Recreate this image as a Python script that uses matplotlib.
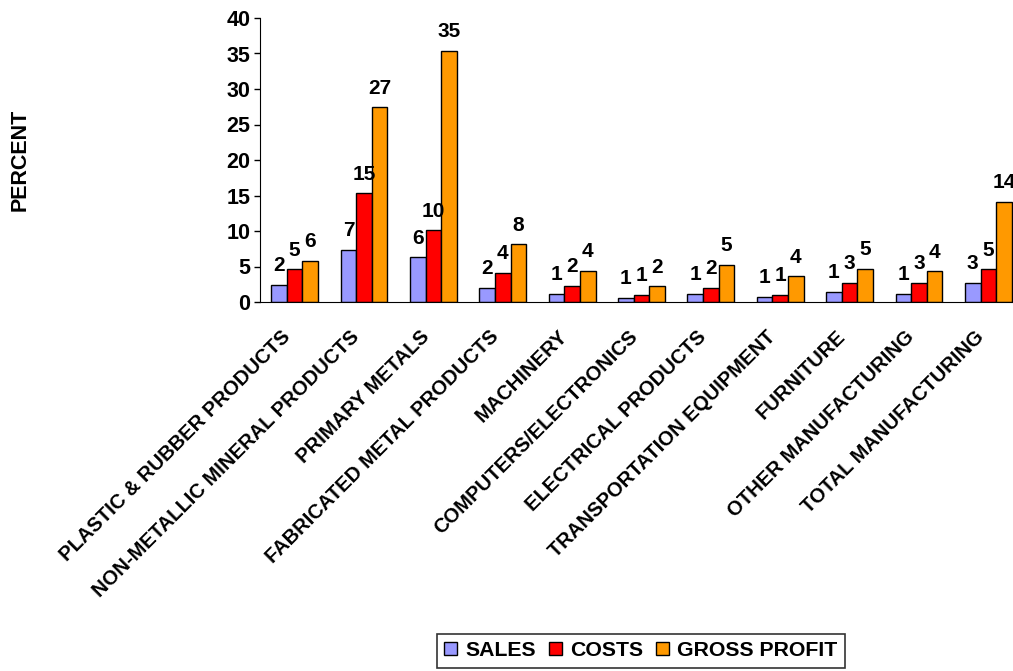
import matplotlib
matplotlib.use("Agg")
import matplotlib.pyplot as plt
import matplotlib.transforms as mtransforms
import numpy as np

plt.rcParams['font.family'] = ['Liberation Sans', 'DejaVu Sans']
plt.rcParams['font.weight'] = 'bold'

industries = [
    "PLASTIC & RUBBER PRODUCTS",
    "NON-METALLIC MINERAL PRODUCTS",
    "PRIMARY METALS",
    "FABRICATED METAL PRODUCTS",
    "MACHINERY",
    "COMPUTERS/ELECTRONICS",
    "ELECTRICAL PRODUCTS",
    "TRANSPORTATION EQUIPMENT",
    "FURNITURE",
    "OTHER MANUFACTURING",
    "TOTAL MANUFACTURING",
]
sales = [2.4, 7.3, 6.3, 2.0, 1.1, 0.6, 1.1, 0.7, 1.4, 1.1, 2.7]
costs = [4.6, 15.3, 10.1, 4.1, 2.3, 1.0, 2.0, 1.0, 2.7, 2.7, 4.6]
gross_profit = [5.8, 27.4, 35.4, 8.1, 4.4, 2.2, 5.2, 3.6, 4.7, 4.3, 14.1]

series = [
    ("SALES", sales, "#9999FF"),
    ("COSTS", costs, "#FF0000"),
    ("GROSS PROFIT", gross_profit, "#FF9900"),
]

fig = plt.figure(figsize=(10.13, 6.71), dpi=100)
ax = fig.add_axes([260 / 1013, 1 - 302 / 671, (1023 - 260) / 1013, (302 - 18) / 671])

x = np.arange(len(industries))
w = 0.225
for i, (name, vals, color) in enumerate(series):
    pos = x + (i - 1) * w
    bars = ax.bar(pos, vals, w, color=color, edgecolor="black", linewidth=1, label=name)
    for b, v in zip(bars, vals):
        ax.annotate(f"{v:.0f}", (b.get_x() + b.get_width() / 2, v),
                    xytext=(0, 7), textcoords="offset points",
                    ha="center", va="bottom", fontsize=15, fontweight="bold")

ax.set_xlim(-0.5, len(industries) - 0.5)
ax.set_ylim(0, 40)
ax.set_yticks(range(0, 41, 5))
ax.tick_params(axis="y", labelsize=15.5, length=4, width=1, pad=3)
ax.tick_params(axis="x", length=0, pad=18)
ax.set_xticks(x)
ax.set_xticklabels(industries, rotation=45, ha="right", rotation_mode="anchor",
                   fontsize=14.5, fontweight="bold")
# nudge the slanted category names left so they end just under their group
shift = mtransforms.ScaledTranslation(-0.14, 0, fig.dpi_scale_trans)
for lbl in ax.get_xticklabels():
    lbl.set_transform(lbl.get_transform() + shift)
for lbl in ax.get_yticklabels():
    lbl.set_fontweight("bold")
ax.spines["top"].set_visible(False)
ax.spines["right"].set_visible(False)

fig.text(20 / 1013, 1 - 160 / 671, "PERCENT", rotation=90, ha="center", va="center",
         fontsize=15.5, fontweight="bold")

leg = fig.legend(loc="upper center", bbox_to_anchor=(641 / 1013, 1 - 623 / 671),
                 ncol=3, frameon=True, fancybox=False, edgecolor="black",
                 handlelength=0.6, handleheight=0.6, handletextpad=0.4,
                 columnspacing=0.6, borderpad=0.35,
                 prop={"size": 15.3, "weight": "bold"})
leg.get_frame().set_linewidth(1.2)

fig.savefig("out.png", dpi=100)
